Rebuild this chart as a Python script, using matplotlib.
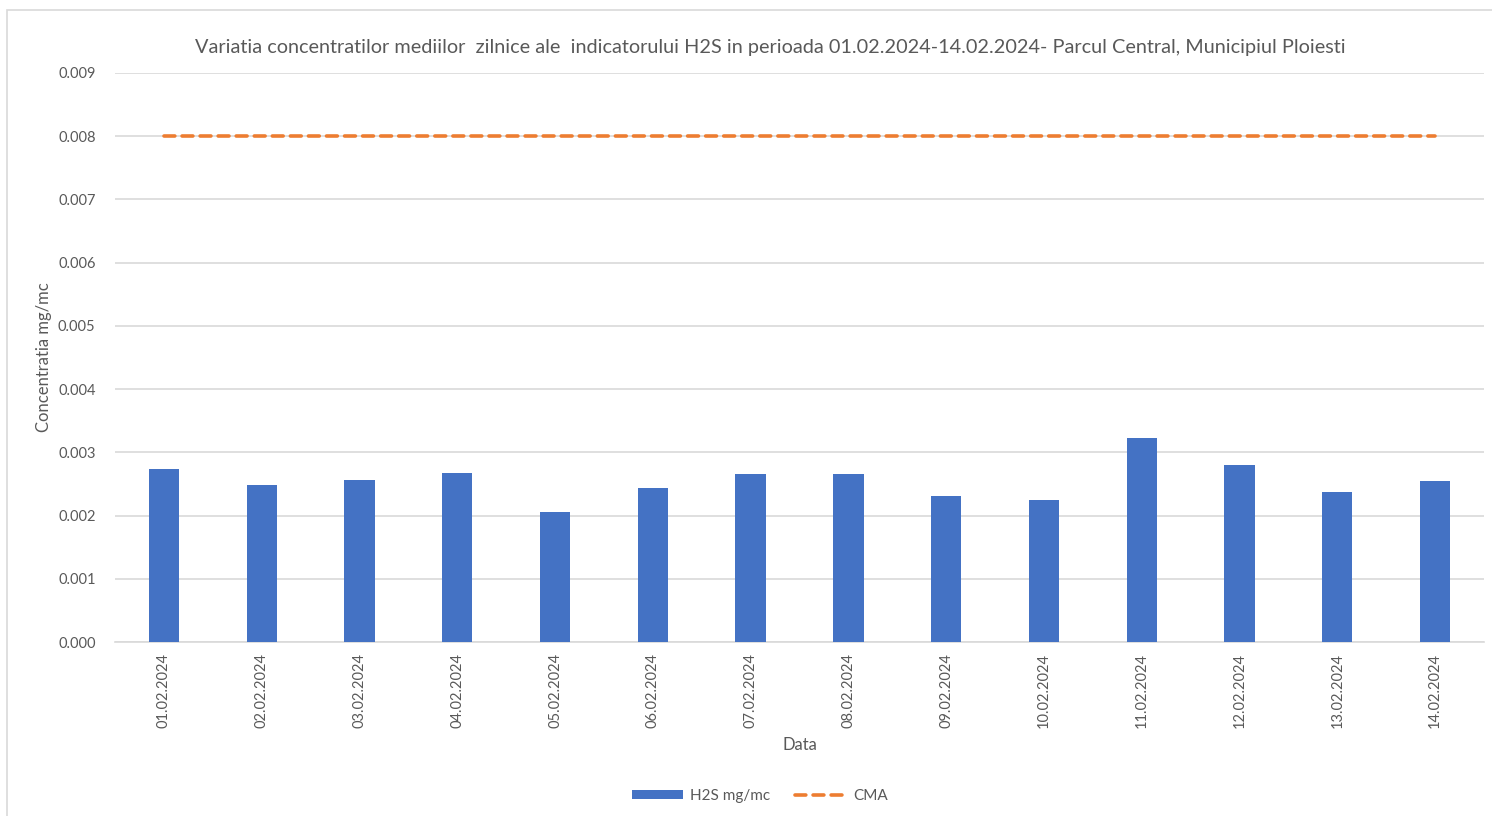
import matplotlib
matplotlib.use("Agg")
import matplotlib.pyplot as plt
from matplotlib.patches import Rectangle

# data
dates = ["01.02.2024", "02.02.2024", "03.02.2024", "04.02.2024", "05.02.2024",
         "06.02.2024", "07.02.2024", "08.02.2024", "09.02.2024", "10.02.2024",
         "11.02.2024", "12.02.2024", "13.02.2024", "14.02.2024"]
h2s = [0.00273, 0.00249, 0.00256, 0.00268, 0.00206, 0.00244, 0.00265,
       0.00266, 0.00231, 0.00225, 0.00322, 0.00280, 0.00237, 0.00255]
cma = [0.008] * len(dates)
yticks = [0.000, 0.001, 0.002, 0.003, 0.004, 0.005, 0.006, 0.007, 0.008, 0.009]

title = ("Variatia concentratilor mediilor  zilnice ale  indicatorului H2S in perioada "
         "01.02.2024-14.02.2024- Parcul Central, Municipiul Ploiesti")

plt.rcParams['font.family'] = ['Lato', 'DejaVu Sans']
text_color = '#595959'
grid_color = '#d9d9d9'

fig = plt.figure(figsize=(14.92, 8.16), dpi=100)
ax = fig.add_axes([115 / 1492, 1 - 642 / 816, (1484 - 115) / 1492, (642 - 73) / 816])

# outer chart border
fig.patches.append(Rectangle((7 / 1492, -0.1), 1.2, 1.1 - 10 / 816, transform=fig.transFigure,
                             fill=False, edgecolor=grid_color, linewidth=1.2))

x = list(range(len(dates)))
bars = ax.bar(x, h2s, width=0.31, color='#4472C4', label='H2S mg/mc', zorder=3)
line, = ax.plot(x, cma, color='#ED7D31', linewidth=2.6, linestyle=(0, (3.0, 2.0)),
                dash_capstyle='round', label='CMA', zorder=4)

ax.set_xlim(-0.5, len(dates) - 0.5)
ax.set_ylim(0, 0.009)
ax.set_yticks(yticks)
ax.set_yticklabels([f"{v:.3f}" for v in yticks])
ax.set_xticks(x)
ax.set_xticklabels(dates, rotation=90)
ax.tick_params(axis='both', length=0, colors=text_color, labelsize=10.5)
ax.tick_params(axis='y', pad=14)
ax.tick_params(axis='x', pad=8)
ax.grid(axis='y', color=grid_color, linewidth=1.2, zorder=0)
for side in ['top', 'right', 'left']:
    ax.spines[side].set_visible(False)
ax.spines['bottom'].set_color(grid_color)
ax.spines['bottom'].set_linewidth(1.2)

ax.set_xlabel('Data', color=text_color, fontsize=12, labelpad=6)
ax.set_ylabel('Concentratia mg/mc', color=text_color, fontsize=12, labelpad=4)
fig.text(770 / 1492, 1 - 47 / 816, title, ha='center', va='center', color=text_color, fontsize=14.3)

leg = ax.legend([bars, line], ['H2S mg/mc', 'CMA'], loc='center',
                bbox_to_anchor=(760 / 1492, 1 - 796 / 816),
                bbox_transform=fig.transFigure, ncol=2, frameon=False, fontsize=11,
                handlelength=3.3, handleheight=0.5, columnspacing=1.6, handletextpad=0.5)
for t in leg.get_texts():
    t.set_color(text_color)

fig.savefig('out.png', dpi=100, facecolor='white')
